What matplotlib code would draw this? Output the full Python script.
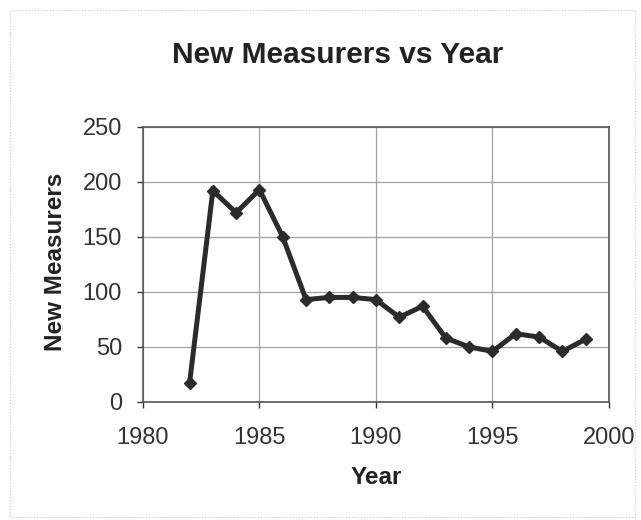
import matplotlib
matplotlib.use("Agg")
import matplotlib.pyplot as plt
from matplotlib.patches import Rectangle

years = [1982, 1983, 1984, 1985, 1986, 1987, 1988, 1989, 1990, 1991,
         1992, 1993, 1994, 1995, 1996, 1997, 1998, 1999]
new_measurers = [17, 192, 172, 193, 150, 93, 95, 95, 93, 77,
                 87, 58, 50, 46, 62, 59, 46, 57]
x_ticks = [1980, 1985, 1990, 1995, 2000]
y_ticks = [0, 50, 100, 150, 200, 250]

plt.rcParams['font.family'] = ['Liberation Sans', 'DejaVu Sans']

fig = plt.figure(figsize=(6.41, 5.20), dpi=100)
fig.patch.set_facecolor('white')
# outer chart border
fig.add_artist(Rectangle((0.015, 0.005), 0.975, 0.975, transform=fig.transFigure,
                         fill=False, edgecolor='#c8c8c8', linewidth=0.8, linestyle=':'))

ax = fig.add_axes([0.223, 0.227, 0.727, 0.529])
ax.plot(years, new_measurers, color='#2b2b2b', linewidth=3.6, marker='D',
        markersize=6, markerfacecolor='#2b2b2b', markeredgecolor='#2b2b2b',
        solid_joinstyle='miter')
ax.set_xlim(1980, 2000)
ax.set_ylim(0, 250)
ax.set_xticks(x_ticks)
ax.set_yticks(y_ticks)
ax.grid(True, color='#a0a0a0', linewidth=0.9)
ax.set_axisbelow(True)
for s in ax.spines.values():
    s.set_color('#555555')
    s.set_linewidth(1.2)
ax.tick_params(axis='both', labelsize=17, colors='#333333', length=4, width=1)
ax.tick_params(axis='x', pad=14)
ax.tick_params(axis='y', pad=11)
for lbl in ax.get_xticklabels() + ax.get_yticklabels():
    lbl.set_color('#333333')

fig.text(376 / 641, 1 - 478 / 520, 'Year', ha='center', va='center',
         fontsize=17.5, fontweight='bold', color='#222222')
fig.text(56 / 641, 1 - 262 / 520, 'New Measurers', ha='center', va='center',
         rotation=90, fontsize=17.5, fontweight='bold', color='#222222')
fig.text(338 / 641, 1 - 55 / 520, 'New Measurers vs Year', ha='center', va='center',
         fontsize=21.5, fontweight='bold', color='#222222')

fig.savefig('out.png', dpi=100, facecolor='white')
